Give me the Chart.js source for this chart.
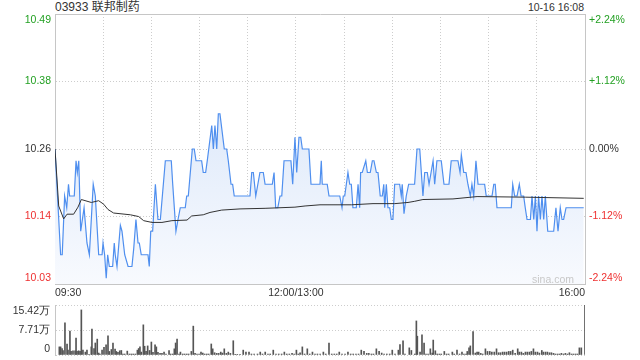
<!DOCTYPE html>
<html><head><meta charset="utf-8">
<script src="https://cdn.jsdelivr.net/npm/chart.js@4"></script>
<style>
html,body{margin:0;padding:0;background:#fff;}
#wrap{position:relative;width:640px;height:360px;overflow:hidden;font-family:"Liberation Sans",Arial,"Noto Sans CJK SC",sans-serif;}
canvas{position:absolute;left:0;}
#title{position:absolute;left:55px;top:0px;font-size:12px;line-height:14px;color:#333;white-space:nowrap;}
#stamp{position:absolute;right:56px;top:0px;font-size:10.5px;line-height:14px;color:#333;white-space:nowrap;}
#wm{position:absolute;left:532px;top:272px;font-size:10.5px;line-height:14px;color:#c8c8c8;}
</style></head>
<body><div id="wrap">
<div id="title">03933 联邦制药</div>
<div id="stamp">10-16 16:08</div>
<canvas id="pc" width="640" height="300" style="top:0px"></canvas>
<canvas id="vc" width="640" height="60" style="top:300px"></canvas>
<div id="wm">sina.com</div>
</div>
<script>
const prevClose = 10.26;
const pctLevels = [2.24, 1.12, 0, -1.12, -2.24];
const priceTickLabels = ['10.49','10.38','10.26','10.14','10.03'];
const pctTickLabels = ['+2.24%','+1.12%','0.00%','-1.12%','-2.24%'];
const xTickMinutes = [0,30,60,90,120,150,180,210,240,270,300,330];
const xTickLabels = ['09:30','','','','','12:00/13:00','','','','','','16:00'];

const priceMinutes = [0,3.5,4.5,6.0,7.3,8.4,9.1,12.0,13.1,13.9,14.8,16.0,18.1,19.9,21.4,23.8,25.1,27.2,29.3,29.9,30.9,31.9,32.8,33.8,35.9,36.9,37.5,38.6,40.7,41.7,43.4,45.5,47.9,49.0,50.4,51.7,52.5,53.7,57.9,58.7,59.6,60.8,62.5,64.1,65.6,68.7,72.4,73.3,75.3,76.6,78.0,81.1,82.0,83.0,85.5,86.7,87.8,91.3,92.3,93.8,94.8,97.6,98.6,99.6,100.7,101.7,102.7,105.4,106.9,107.9,109.6,110.6,111.6,121.4,122.5,123.5,125.0,127.6,129.7,130.8,135.3,136.4,137.4,138.7,140.1,141.2,142.6,146.9,148.0,149.4,150.5,151.9,153.0,154.0,158.1,159.4,165.0,165.8,166.4,169.5,170.6,177.3,178.7,179.5,180.4,182.4,183.5,184.5,185.5,187.6,188.7,189.7,190.3,191.3,193.5,194.5,196.3,197.6,198.6,200.1,201.1,202.5,203.8,204.7,205.3,206.3,207.3,208.4,209.4,210.4,211.5,214.6,215.6,216.2,217.3,218.7,220.2,223.9,225.4,227.1,229.1,230.2,231.8,232.9,235.4,236.4,237.8,240.5,242.2,245.3,246.7,250.9,252.2,253.0,254.5,255.9,257.1,258.6,259.6,260.7,262.1,263.4,267.5,268.5,272.1,273.2,274.1,275.2,284.1,285.0,286.2,287.7,289.1,290.2,291.8,292.8,293.9,296.0,297.0,298.1,299.1,300.1,301.1,302.2,303.2,304.3,305.3,306.8,310.5,311.9,313.2,314.6,315.7,316.7,318.2,329.2];
const prices = [10.26,10.08,10.08,10.18,10.16,10.20,10.18,10.18,10.24,10.22,10.24,10.12,10.16,10.10,10.08,10.20,10.18,10.08,10.08,10.10,10.08,10.04,10.08,10.06,10.06,10.10,10.08,10.06,10.13,10.12,10.08,10.06,10.06,10.09,10.14,10.10,10.10,10.08,10.08,10.06,10.12,10.12,10.20,10.14,10.14,10.24,10.24,10.20,10.12,10.14,10.16,10.16,10.18,10.18,10.26,10.26,10.24,10.24,10.22,10.22,10.24,10.30,10.26,10.30,10.26,10.32,10.32,10.26,10.26,10.24,10.20,10.20,10.18,10.18,10.22,10.22,10.18,10.22,10.22,10.20,10.20,10.22,10.16,10.16,10.18,10.18,10.24,10.24,10.20,10.28,10.22,10.28,10.28,10.26,10.26,10.20,10.20,10.24,10.20,10.20,10.18,10.18,10.16,10.18,10.18,10.22,10.20,10.20,10.16,10.16,10.20,10.16,10.22,10.22,10.24,10.22,10.22,10.24,10.24,10.22,10.22,10.18,10.18,10.20,10.16,10.20,10.16,10.16,10.14,10.14,10.20,10.20,10.18,10.20,10.15,10.18,10.20,10.20,10.26,10.26,10.18,10.22,10.22,10.20,10.24,10.20,10.24,10.24,10.20,10.20,10.24,10.24,10.22,10.25,10.22,10.22,10.20,10.18,10.20,10.18,10.24,10.20,10.20,10.18,10.18,10.20,10.20,10.16,10.16,10.20,10.18,10.18,10.20,10.18,10.18,10.16,10.14,10.14,10.18,10.14,10.18,10.12,10.18,10.14,10.18,10.14,10.18,10.12,10.12,10.16,10.12,10.16,10.14,10.14,10.16,10.16];

const avgMinutes = [0,2.3,5.4,7.5,11.6,14.3,16.4,22.6,27.2,30.3,33.0,36.5,46.9,52.1,55.2,60.4,66.6,72.8,82.2,85.1,92.3,96.5,103.8,115.2,130.8,149.4,155.7,165.0,184.5,198.0,211.5,219.8,224.0,229.1,247.8,262.8,292.8,329.2];
const avgPrices = [10.26,10.163,10.141,10.149,10.149,10.161,10.174,10.169,10.172,10.166,10.157,10.151,10.148,10.145,10.138,10.135,10.135,10.138,10.139,10.146,10.148,10.152,10.156,10.158,10.159,10.161,10.163,10.165,10.165,10.167,10.167,10.169,10.171,10.174,10.175,10.179,10.178,10.176];

const volMinutes = [2.7,3.5,4.4,5.0,6.2,7.5,8.1,9.3,10.0,11.2,12.5,13.1,13.7,14.7,15.6,16.4,17.4,18.9,19.9,21.2,22.6,23.0,24.3,25.1,26.3,27.2,28.0,29.3,30.5,31.8,33.0,33.8,35.1,36.1,37.4,38.2,39.2,40.3,41.3,42.3,43.4,45.0,46.3,47.5,48.7,50.0,51.3,52.1,52.9,53.7,55.0,55.8,56.7,57.7,58.9,60.0,61.0,62.3,63.1,64.1,65.4,66.6,67.9,69.1,71.0,72.0,73.3,74.3,75.1,76.0,77.2,78.1,79.5,80.7,82.0,83.2,84.9,86.1,87.2,88.4,89.7,90.9,92.0,93.2,94.5,95.7,97.3,98.2,99.4,100.7,101.9,103.2,104.2,105.4,106.7,107.9,109.2,111.0,112.2,113.5,115.2,117.2,118.9,120.8,122.3,124.0,126.1,127.8,129.2,130.9,132.6,134.0,135.9,137.6,139.3,141.1,142.8,144.3,145.9,147.6,148.9,150.3,151.5,152.6,154.0,155.4,157.1,158.6,160.3,161.9,163.4,165.1,167.1,168.6,170.6,172.3,173.9,175.4,177.0,178.7,180.6,182.4,184.1,185.7,187.4,189.0,190.7,192.4,194.1,195.4,197.0,198.3,200.1,201.8,203.4,204.9,206.6,208.4,210.0,211.7,213.8,214.8,216.7,217.9,220.6,221.9,224.0,225.0,225.6,227.3,228.5,229.8,231.0,232.3,233.7,234.9,235.5,236.8,238.0,239.3,240.5,242.4,243.8,245.1,247.4,248.6,250.3,251.9,253.4,254.6,255.9,256.7,257.8,258.6,260.3,261.7,262.8,263.8,265.1,266.3,268.0,269.3,270.7,272.0,273.5,274.9,276.2,277.4,278.7,279.9,281.2,282.5,283.7,285.0,286.5,288.1,289.1,290.4,291.6,292.9,294.1,295.4,296.6,297.9,299.1,300.4,301.6,303.1,304.1,305.4,306.6,307.9,309.1,310.4,311.6,312.9,314.1,315.3,316.6,317.8,319.1,320.3,321.6,322.8,324.1,325.3,326.5,327.7,330];
const volValues = [2.5,2.5,2.0,1.4,9.9,3.4,1.5,7.4,1.1,1.3,1.3,5.2,1.1,1.3,1.1,13.9,1.5,0.9,1.5,0.2,2.5,8.0,2.0,3.7,4.9,0.6,0.3,1.5,2.4,3.1,5.9,1.1,1.7,3.7,1.8,1.1,0.8,1.3,1.4,0.3,0.3,1.2,0.3,0.3,0.3,0.3,1.5,2.0,2.5,0.9,9.3,2.7,1.1,2.8,1.4,4.0,0.8,3.1,2.5,0.8,0.5,0.5,0.9,0.3,1.4,0.3,0.3,1.9,3.7,4.9,0.3,0.9,0.3,0.3,0.3,0.3,1.1,8.9,0.5,0.3,0.3,0.9,0.6,0.3,0.3,0.3,3.4,1.9,0.7,0.5,0.5,0.9,0.6,1.9,0.5,0.9,0.5,4.4,0.1,0.1,0.1,1.5,0.9,0.9,0.3,0.3,0.3,0.9,0.3,0.9,0.3,0.3,1.5,0.3,0.3,0.3,0.9,0.3,0.3,0.5,0.3,1.5,0.3,0.7,2.5,0.3,1.9,0.3,0.9,0.3,0.3,0.3,0.9,0.3,3.7,0.3,0.3,0.3,0.9,0.3,0.3,0.9,0.3,0.3,0.3,0.3,1.5,1.1,0.5,0.5,0.3,0.3,1.9,1.1,0.6,0.3,0.3,0.3,1.5,0.3,1.5,3.2,4.4,0.3,2.2,1.4,0.3,10.5,5.8,0.9,6.2,3.7,0.3,0.3,1.9,0.6,4.6,1.3,0.3,0.3,0.3,1.1,0.3,0.3,0.9,0.3,1.5,0.3,0.9,0.3,0.3,1.1,2.2,2.8,7.2,0.6,0.9,0.9,0.5,0.3,1.9,1.1,1.1,0.9,0.9,1.9,0.7,0.7,0.9,0.9,0.9,1.1,1.1,1.5,0.5,1.9,0.9,0.9,0.5,0.9,0.9,0.9,1.1,1.9,0.9,0.9,0.6,1.4,0.9,0.9,0.9,0.7,0.7,0.5,0.3,0.3,0.3,0.5,0.3,0.5,0.3,0.7,0.3,0.3,0.3,0.3,2.2,2.2,15.5];
const volTickValues = [15.42, 7.71, 0];
const volTickLabels = ['15.42万','7.71万','0'];

const FONT = '"Liberation Sans", Arial, sans-serif';
const GREEN = '#22a022', RED = '#ee3030', DARK = '#333333';
const GRID = '#cdcdcd', BORDER = '#c6c6c6';

const priceTickValues = pctLevels.map(p => prevClose * (1 + p / 100));
const yMin = Math.min(...priceTickValues), yMax = Math.max(...priceTickValues);
const priceGridValues = priceTickValues.slice(1, -1);
const priceLabelColors = pctLevels.map(p => p > 0 ? GREEN : (p < 0 ? RED : DARK));

function makeSideLabels(values, leftLabels, rightLabels, colors, inset, pad) {
  return {
    id: 'sideLabels',
    afterDraw(chart) {
      const {ctx, chartArea} = chart;
      const ys = chart.scales.y;
      ctx.save();
      ctx.font = '10.5px ' + FONT;
      ctx.textBaseline = 'middle';
      values.forEach((v, i) => {
        let py = ys.getPixelForValue(v);
        py = Math.min(Math.max(py, chartArea.top + inset), chartArea.bottom - inset);
        ctx.fillStyle = colors[i];
        ctx.textAlign = 'right';
        ctx.fillText(leftLabels[i], chartArea.left - pad, py);
        if (rightLabels) {
          ctx.textAlign = 'left';
          ctx.fillText(rightLabels[i], chartArea.right + pad, py);
        }
      });
      ctx.restore();
    }
  };
}

function areaFill(c) {
  const chart = c.chart, a = chart.chartArea;
  if (!a) return 'rgba(220,232,250,0.8)';
  const g = chart.ctx.createLinearGradient(0, a.top, 0, a.bottom);
  g.addColorStop(0, '#d0e0f8');
  g.addColorStop(1, '#f8fafe');
  return g;
}

new Chart(document.getElementById('pc'), {
  type: 'line',
  data: {
    datasets: [
      { label: '均价', data: avgMinutes.map((m, i) => ({x: m, y: avgPrices[i]})),
        borderColor: '#333', borderWidth: 1, pointRadius: 0, fill: false, tension: 0 },
      { label: '价格', data: priceMinutes.map((m, i) => ({x: m, y: prices[i]})),
        borderColor: '#4f8fef', borderWidth: 1.2, pointRadius: 0, tension: 0,
        fill: 'start', backgroundColor: areaFill }
    ]
  },
  options: {
    responsive: false, animation: false, events: [],
    layout: {padding: {top: 14, left: 0, right: 0, bottom: 0}},
    plugins: {legend: {display: false}, tooltip: {enabled: false}, filler: {drawTime: 'beforeDatasetsDraw'}},
    scales: {
      x: {type: 'linear', position: 'bottom', min: 0, max: 330,
        afterBuildTicks: s => { s.ticks = xTickMinutes.map(v => ({value: v})); },
        afterFit: s => { s.height = 16; },
        ticks: {callback: (v, i) => xTickLabels[i], align: 'inner', padding: 3, color: DARK,
          font: {family: FONT, size: 10.5}, maxRotation: 0, autoSkip: false},
        grid: {color: GRID, drawTicks: false, lineWidth: 1},
        border: {color: BORDER, dash: [1, 2]}},
      x2: {type: 'linear', position: 'top', min: 0, max: 330,
        afterFit: s => { s.height = 0; },
        ticks: {display: false}, grid: {display: false, drawTicks: false},
        border: {color: BORDER}},
      y: {type: 'linear', position: 'left', min: yMin, max: yMax,
        afterBuildTicks: s => { s.ticks = priceGridValues.map(v => ({value: v})); },
        afterFit: s => { s.width = 55; },
        ticks: {display: false}, grid: {color: GRID, drawTicks: false},
        border: {color: BORDER, dash: [1, 2]}},
      y2: {type: 'linear', position: 'right', min: yMin, max: yMax,
        afterFit: s => { s.width = 55; },
        ticks: {display: false}, grid: {display: false, drawTicks: false},
        border: {color: BORDER}}
    }
  },
  plugins: [makeSideLabels(priceTickValues, priceTickLabels, pctTickLabels, priceLabelColors, 6, 4)]
});

new Chart(document.getElementById('vc'), {
  type: 'bar',
  data: {
    datasets: [{ label: '成交量', data: volMinutes.map((m, i) => ({x: m, y: volValues[i]})),
      backgroundColor: '#555555', borderWidth: 0, barThickness: 1 }]
  },
  options: {
    responsive: false, animation: false, events: [],
    layout: {padding: {top: 5, bottom: 5, left: 0, right: 55}},
    plugins: {legend: {display: false}, tooltip: {enabled: false}},
    scales: {
      x: {type: 'linear', min: 0, max: 330, offset: false, display: false, grid: {offset: false}},
      y: {type: 'linear', position: 'left', min: 0, max: 15.42,
        afterBuildTicks: s => { s.ticks = volTickValues.map(v => ({value: v})); },
        afterFit: s => { s.width = 55; },
        ticks: {display: false}, grid: {color: GRID, drawTicks: false},
        border: {color: BORDER, dash: [1, 2]}}
    }
  },
  plugins: [makeSideLabels(volTickValues, volTickLabels, null, [DARK, DARK, DARK], 6, 5)]
});
</script>
</body></html>
